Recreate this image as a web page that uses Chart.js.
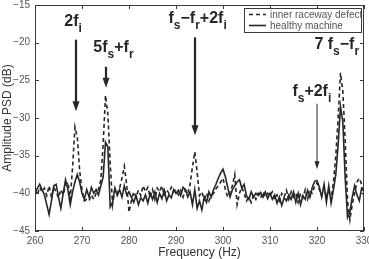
<!DOCTYPE html>
<html>
<head>
<meta charset="utf-8">
<script src="https://cdn.jsdelivr.net/npm/chart.js@4.4.1/dist/chart.umd.min.js"></script>
<style>
  html, body { margin: 0; padding: 0; background: #fff; }
  #wrap { width: 369px; height: 259px; }
</style>
</head>
<body>
<div id="wrap"><canvas id="psdChart" width="369" height="259"></canvas></div>
<script>
// ---- data ----
const freqStart = 260;
const freqStep = 0.5;

const healthy = [
  -40.0,-39.3,-38.8,-39.5,-40.2,-41.5,-42.8,-41.0,-39.0,-38.8,-40.5,-42.0,-40.0,-38.2,-39.5,-41.5,-39.8,-38.5,-37.5,-38.5,
  -40.0,-40.8,-39.5,-40.5,-39.2,-40.0,-39.5,-40.2,-39.0,-37.8,-33.2,-33.8,-41.8,-41.2,-39.3,-40.3,-39.5,-40.5,-39.0,-40.2,
  -39.8,-40.5,-41.2,-40.3,-41.5,-40.6,-41.0,-40.2,-41.3,-40.0,-40.8,-39.8,-41.2,-40.0,-40.7,-39.6,-41.0,-40.2,-40.6,-39.5,
  -40.0,-39.6,-40.3,-39.2,-39.5,-40.5,-39.8,-41.5,-39.5,-42.0,-41.0,-42.2,-40.5,-41.2,-39.8,-40.5,-39.5,-38.8,-38.0,-37.3,
  -36.8,-37.8,-39.2,-40.5,-39.5,-39.0,-38.5,-38.2,-39.3,-38.8,-40.3,-40.8,-39.8,-40.5,-40.0,-40.3,-39.9,-40.5,-39.8,-40.7,
  -40.0,-40.8,-40.2,-41.3,-40.5,-41.6,-40.6,-41.0,-40.2,-40.8,-39.8,-41.2,-40.0,-41.5,-40.3,-40.8,-39.6,-40.5,-39.2,-38.4,
  -38.3,-39.2,-40.5,-38.8,-41.2,-39.0,-41.3,-39.5,-37.5,-33.5,-28.5,-30.5,-38.0,-43.2,-42.5,-40.5,-39.0,-40.2,-41.0,-39.3,
  -39.5
];

const defect = [
  -39.5,-40.2,-39.2,-39.8,-39.3,-40.3,-39.0,-40.5,-39.2,-39.8,-40.6,-39.5,-40.2,-39.0,-38.5,-40.8,-36.5,-31.2,-32.5,-37.0,
  -39.5,-41.0,-40.8,-41.0,-40.2,-40.8,-40.0,-39.5,-38.2,-33.5,-27.0,-29.5,-36.0,-41.5,-39.5,-40.0,-39.3,-38.0,-36.4,-38.8,
  -42.5,-41.0,-39.8,-40.5,-39.6,-40.3,-39.0,-39.8,-39.2,-40.5,-39.5,-40.8,-39.3,-39.8,-39.0,-40.2,-39.5,-40.0,-39.2,-39.8,
  -39.5,-40.2,-39.6,-40.5,-39.5,-40.0,-38.8,-36.5,-34.5,-37.2,-40.3,-39.8,-40.8,-40.0,-41.0,-40.3,-40.0,-39.4,-39.0,-38.5,
  -38.0,-39.5,-40.5,-39.8,-39.0,-37.5,-41.5,-40.0,-39.2,-40.0,-41.0,-40.5,-41.2,-40.2,-40.8,-40.0,-40.6,-39.8,-40.5,-40.0,
  -40.3,-39.8,-40.8,-40.2,-41.0,-40.0,-40.5,-39.6,-40.8,-39.8,-40.5,-40.0,-41.2,-40.0,-40.6,-39.5,-40.8,-39.8,-40.0,-39.0,
  -38.6,-39.5,-40.3,-39.2,-40.5,-39.5,-40.8,-38.5,-35.0,-30.0,-24.0,-26.5,-33.0,-41.0,-43.5,-41.5,-40.0,-38.5,-38.0,-38.8,
  -40.5
];

const seriesNames = ['inner raceway defect', 'healthy machine'];
const xTicks = [260, 270, 280, 290, 300, 310, 320, 330];
const yTicks = [-45, -40, -35, -30, -25, -20, -15];

// peak annotations, in data units (Hz, dB); "_" marks a one-letter subscript
const peakLabels = ['2f_i', '5f_s+f_r', 'f_s\u2212f_r+2f_i', '7 f_s\u2212f_r', 'f_s+2f_i'];
const labelFreq  = [268.1, 276.7, 294.6, 324.2, 318.9];
const labelDb    = [-17.8, -21.2, -17.35, -20.9, -27.1];
const arrowFreq  = [268.76, 275.2, 294.0, 320.0];
const arrowFrom  = [-19.6, -23.2, -19.3, -28.1];
const arrowTo    = [-29.1, -26.0, -32.3, -36.8];

// ---- drawing ----
const FONT = '"Liberation Sans", Arial, Helvetica, sans-serif';
const INK = '#262626';

const toPoints = arr => arr.map((v, i) => ({ x: freqStart + i * freqStep, y: v }));

function drawLabel(ctx, text, cx, baseY) {
  const parts = [];
  for (let i = 0; i < text.length; i++) {
    if (text[i] === '_') { parts.push({ t: text[i + 1], sub: true }); i++; }
    else parts.push({ t: text[i], sub: false });
  }
  const mainFont = 'bold 16px ' + FONT;
  const subFont = 'bold 12px ' + FONT;
  let total = 0;
  parts.forEach(p => { ctx.font = p.sub ? subFont : mainFont; p.w = ctx.measureText(p.t).width; total += p.w; });
  let px = cx - total / 2;
  ctx.textAlign = 'left';
  ctx.textBaseline = 'alphabetic';
  parts.forEach(p => {
    ctx.font = p.sub ? subFont : mainFont;
    ctx.fillText(p.t, px, baseY + (p.sub ? 6 : 0));
    px += p.w;
  });
}

function drawArrow(ctx, x, y0, y1, lw) {
  const head = lw > 1.5 ? 10 : 8;
  const half = lw > 1.5 ? 3.5 : 2.5;
  ctx.lineWidth = lw;
  ctx.beginPath();
  ctx.moveTo(x, y0);
  ctx.lineTo(x, y1 - head + 1);
  ctx.stroke();
  ctx.beginPath();
  ctx.moveTo(x, y1);
  ctx.lineTo(x - half, y1 - head);
  ctx.lineTo(x + half, y1 - head);
  ctx.closePath();
  ctx.fill();
}

const annotations = {
  id: 'annotations',
  afterDatasetsDraw(chart) {
    const { ctx, scales: { x, y } } = chart;
    ctx.save();
    ctx.fillStyle = INK;
    ctx.strokeStyle = INK;
    peakLabels.forEach((t, i) => drawLabel(ctx, t, x.getPixelForValue(labelFreq[i]), y.getPixelForValue(labelDb[i])));
    arrowFreq.forEach((f, i) => {
      const lw = i === 3 ? 1 : 2.2;
      drawArrow(ctx, Math.round(x.getPixelForValue(f)), y.getPixelForValue(arrowFrom[i]), y.getPixelForValue(arrowTo[i]), lw);
    });
    ctx.restore();
  }
};

const frame = {
  id: 'frame',
  afterDraw(chart) {
    const { ctx, chartArea: a, scales: { x, y } } = chart;
    ctx.save();
    ctx.strokeStyle = '#3a3a3a';
    ctx.lineWidth = 1;
    ctx.strokeRect(Math.round(a.left) + 0.5, Math.round(a.top) + 0.5, Math.round(a.right - a.left) - 1, Math.round(a.bottom - a.top) - 1);
    ctx.beginPath();
    xTicks.forEach(v => {
      const px = Math.round(x.getPixelForValue(v)) + 0.5;
      ctx.moveTo(px, a.bottom); ctx.lineTo(px, a.bottom - 4);
      ctx.moveTo(px, a.top); ctx.lineTo(px, a.top + 4);
    });
    yTicks.forEach(v => {
      const py = Math.round(y.getPixelForValue(v)) + 0.5;
      ctx.moveTo(a.left, py); ctx.lineTo(a.left + 4, py);
      ctx.moveTo(a.right, py); ctx.lineTo(a.right - 4, py);
    });
    ctx.stroke();

    // legend box, top right inside the plot
    const bx = 244, by = 8, bw = 117, bh = 24;
    ctx.fillStyle = '#fff';
    ctx.fillRect(bx, by, bw, bh);
    ctx.strokeRect(bx + 0.5, by + 0.5, bw, bh);
    ctx.strokeStyle = INK;
    ctx.lineWidth = 1.6;
    ctx.setLineDash([4, 3]);
    ctx.beginPath(); ctx.moveTo(249, 14.5); ctx.lineTo(266, 14.5); ctx.stroke();
    ctx.setLineDash([]);
    ctx.beginPath(); ctx.moveTo(249, 25.5); ctx.lineTo(266, 25.5); ctx.stroke();
    ctx.fillStyle = '#555';
    ctx.font = '10px ' + FONT;
    ctx.textAlign = 'left';
    ctx.textBaseline = 'middle';
    ctx.fillText(seriesNames[0], 270, 15);
    ctx.fillText(seriesNames[1], 270, 26);
    ctx.restore();
  }
};

new Chart(document.getElementById('psdChart'), {
  type: 'line',
  data: {
    datasets: [
      {
        label: seriesNames[0],
        data: toPoints(defect),
        borderColor: INK,
        borderWidth: 1.6,
        borderDash: [4, 3],
        pointRadius: 0,
        tension: 0,
        fill: false
      },
      {
        label: seriesNames[1],
        data: toPoints(healthy),
        borderColor: INK,
        borderWidth: 1.6,
        pointRadius: 0,
        tension: 0,
        fill: false
      }
    ]
  },
  options: {
    responsive: false,
    animation: false,
    layout: { padding: { top: 5, right: 5, left: 0, bottom: 0 } },
    plugins: { legend: { display: false }, tooltip: { enabled: false } },
    scales: {
      x: {
        type: 'linear',
        min: 260, max: 330,
        grid: { display: false, drawTicks: false },
        border: { display: false },
        afterBuildTicks: s => { s.ticks = xTicks.map(v => ({ value: v })); },
        afterFit: s => { s.height = 28; s.paddingLeft = 0; s.paddingRight = 0; },
        ticks: { color: '#555', font: { family: FONT, size: 10 }, padding: 4, maxRotation: 0 },
        title: { display: true, text: 'Frequency (Hz)', color: '#333', font: { family: FONT, size: 12, lineHeight: 1 }, padding: { top: 0, bottom: 0 } }
      },
      y: {
        min: -45, max: -15,
        grid: { display: false, drawTicks: false },
        border: { display: false },
        afterBuildTicks: s => { s.ticks = yTicks.map(v => ({ value: v })); },
        afterFit: s => { s.width = 35; s.paddingTop = 0; s.paddingBottom = 0; },
        ticks: {
          color: '#555', font: { family: FONT, size: 10 }, padding: 5,
          callback: v => String(v).replace('-', '\u2212')
        },
        title: { display: true, text: 'Amplitude PSD (dB)', color: '#333', font: { family: FONT, size: 12, lineHeight: 1 }, padding: { top: 2, bottom: 0 } }
      }
    }
  },
  plugins: [annotations, frame]
});
</script>
</body>
</html>
